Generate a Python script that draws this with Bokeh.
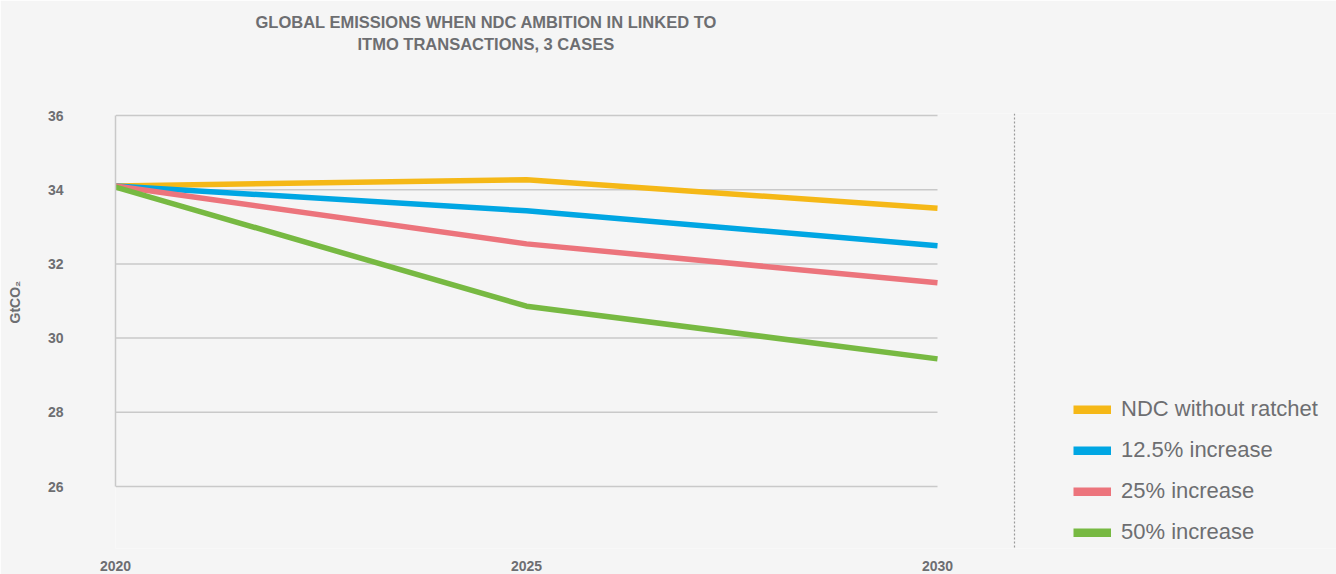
from bokeh.plotting import figure
from bokeh.models import (Range1d, FixedTicker, Span, Legend, LegendItem, Title)
from bokeh.embed import file_html
from bokeh.resources import INLINE

# ---- data ----
years = [2020, 2025, 2030]
ndc_without_ratchet = [34.1, 34.27, 33.5]
increase_12_5 = [34.1, 33.43, 32.49]
increase_25 = [34.1, 32.54, 31.49]
increase_50 = [34.07, 30.86, 29.44]
series_names = ["NDC without ratchet", "12.5% increase", "25% increase", "50% increase"]
series_colors = ["#f5b817", "#00a6e3", "#ec747c", "#77b942"]
y_ticks = [26, 28, 30, 32, 34, 36]
x_ticks = [2020, 2025, 2030]
title_lines = ["GLOBAL EMISSIONS WHEN NDC AMBITION IN LINKED TO", "ITMO TRANSACTIONS, 3 CASES"]
y_label = "GtCO\u2082"

BG = "#f5f5f5"
TXT = "#6d6e71"
GRID = "#c9c9c9"

W, H = 1336, 574
left, top = 115, 113          # frame offsets inside figure
bottom_pad = 26
frame_w = W - left
frame_h = H - top - bottom_pad

# scale: 2020..2030 spans 822 px, 26..36 spans 371 px
px_per_year = 822 / 10.0
px_per_unit = 371 / 10.0
x0 = x_ticks[0]
x1 = x0 + frame_w / px_per_year
y_top = 36 + 2 / px_per_unit
y_bot = y_top - frame_h / px_per_unit

p = figure(width=W, height=H, output_backend="svg", toolbar_location=None,
           x_range=Range1d(x0, x1), y_range=Range1d(y_bot, y_top),
           min_border_left=left, min_border_right=0, min_border_top=top,
           min_border_bottom=bottom_pad, background_fill_color=BG,
           border_fill_color=BG, outline_line_color=None)
p.title.text = ""

# horizontal grid lines only across 2020..2030
p.xgrid.visible = False
p.ygrid.visible = False
p.segment(x0=[x_ticks[0]] * len(y_ticks), x1=[x_ticks[-1]] * len(y_ticks),
          y0=y_ticks, y1=y_ticks, line_color=GRID, line_width=1.5)

# y axis
ya = p.yaxis[0]
ya.ticker = FixedTicker(ticks=y_ticks)
ya.bounds = (26, 36)
ya.axis_line_color = GRID
ya.axis_line_width = 1.5
ya.major_tick_line_color = None
ya.minor_tick_line_color = None
ya.major_label_standoff = 46
ya.major_label_text_font = "Liberation Sans"
ya.major_label_text_font_style = "bold"
ya.major_label_text_font_size = "14px"
ya.major_label_text_color = TXT

# x axis
xa = p.xaxis[0]
xa.ticker = FixedTicker(ticks=x_ticks)
xa.axis_line_color = None
xa.major_tick_line_color = None
xa.minor_tick_line_color = None
xa.major_label_standoff = 6
xa.major_label_text_font = "Liberation Sans"
xa.major_label_text_font_style = "bold"
xa.major_label_text_font_size = "14px"
xa.major_label_text_color = TXT

# lines
data_series = [ndc_without_ratchet, increase_12_5, increase_25, increase_50]
legend_items = []
for name, vals, col in zip(series_names, data_series, series_colors):
    p.line(years, vals, line_color=col, line_width=5.5)
    swatch = p.line([x0], [float("nan")], line_color=col, line_width=9)
    legend_items.append(LegendItem(label=name, renderers=[swatch]))

# dotted separator
p.add_layout(Span(location=x0 + (1014 - left) / px_per_year, dimension="height",
                  line_color="#9a9a9a", line_dash="2 2", line_width=1.2))

legend = Legend(items=legend_items, location=(1073 - left, 3), orientation="vertical",
                padding=0, margin=0, spacing=15, label_height=25, glyph_height=9,
                glyph_width=38, label_standoff=10, label_text_font="Liberation Sans",
                label_text_font_size="22px", label_text_color=TXT,
                background_fill_alpha=0, border_line_alpha=0)
p.add_layout(legend, "center")

tfont = dict(text_font="Liberation Sans", text_font_style="bold",
             text_font_size="16.5px", text_color=TXT)
# spacer nearest the frame, then line 2, then line 1
p.add_layout(Title(text=" ", standoff=40, **tfont), "above")
p.add_layout(Title(text=title_lines[1], align="left", offset=242, standoff=2, **tfont), "above")
p.add_layout(Title(text=title_lines[0], align="left", offset=140, standoff=2, **tfont), "above")

# y-axis label as a left title (spacer between it and the tick labels)
p.add_layout(Title(text=" ", standoff=5, text_font="Liberation Sans",
                   text_font_size="13px", text_color=TXT), "left")
p.add_layout(Title(text=y_label, align="left", offset=(548 - 323), standoff=0,
                   text_font="Liberation Sans", text_font_style="bold",
                   text_font_size="14px", text_color=TXT), "left")

open("out.html", "w").write(file_html(p, INLINE))
